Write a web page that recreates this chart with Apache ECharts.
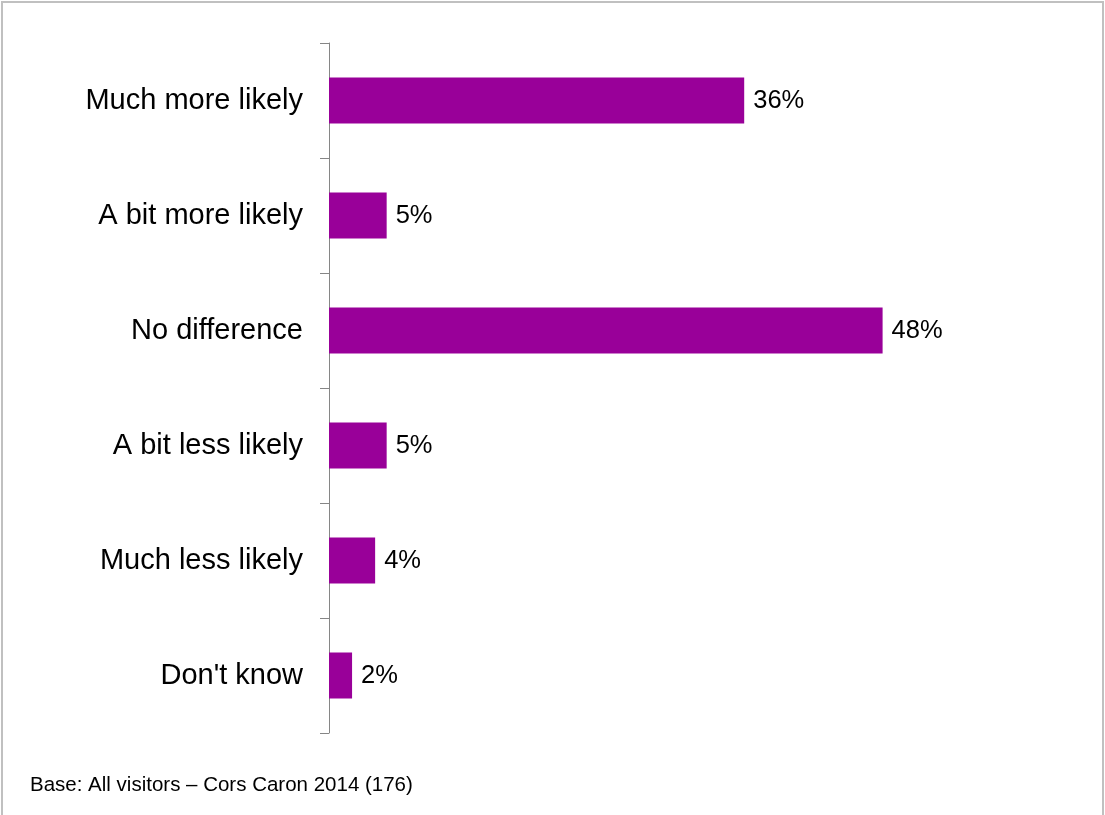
<!DOCTYPE html>
<html>
<head>
<meta charset="utf-8">
<script src="https://cdn.jsdelivr.net/npm/echarts@6/dist/echarts.min.js"></script>
<style>
  html, body { margin: 0; padding: 0; background: #fff; }
  #chart { width: 1105px; height: 815px; }
</style>
</head>
<body>
<div id="chart"></div>
<script>
// Survey responses, top to bottom
const categories = ['Much more likely', 'A bit more likely', 'No difference', 'A bit less likely', 'Much less likely', "Don't know"];
const shares = [36, 5, 48, 5, 4, 2];
const footnote = 'Base: All visitors \u2013 Cors Caron 2014 (176)';

const chart = echarts.init(document.getElementById('chart'), null, { renderer: 'canvas' });

chart.setOption({
  animation: false,
  backgroundColor: '#fff',
  textStyle: { fontFamily: '"Liberation Sans", Arial, sans-serif' },
  grid: { left: 329, top: 43, bottom: 82, right: 84, containLabel: false },
  xAxis: {
    type: 'value',
    min: 0,
    max: 60,
    show: false
  },
  yAxis: {
    type: 'category',
    data: categories,
    inverse: true,
    axisLine: { show: true, lineStyle: { color: '#868686', width: 1 } },
    axisTick: { show: true, alignWithLabel: false, length: 9, lineStyle: { color: '#868686' } },
    axisLabel: {
      margin: 26,
      fontSize: 29,
      color: '#000',
      padding: [9, 0, 0, 0],
      fontFamily: '"Liberation Sans", Arial, sans-serif'
    },
    splitLine: { show: false }
  },
  series: [{
    type: 'bar',
    data: shares,
    barWidth: 46,
    itemStyle: { color: '#990099' },
    label: {
      show: true,
      position: 'right',
      distance: 9,
      formatter: '{c}%',
      fontSize: 25.5,
      color: '#000',
      padding: [8, 0, 0, 0],
      fontFamily: '"Liberation Sans", Arial, sans-serif'
    }
  }],
  graphic: [
    {
      type: 'rect',
      shape: { x: 2, y: 2, width: 1101, height: 840 },
      style: { fill: null, stroke: '#c0c0c0', lineWidth: 2 },
      silent: true
    },
    {
      type: 'text',
      left: 30,
      top: 775,
      style: {
        text: footnote,
        fontSize: 20.5,
        fill: '#000',
        fontFamily: '"Liberation Sans", Arial, sans-serif'
      }
    }
  ]
});
</script>
</body>
</html>
